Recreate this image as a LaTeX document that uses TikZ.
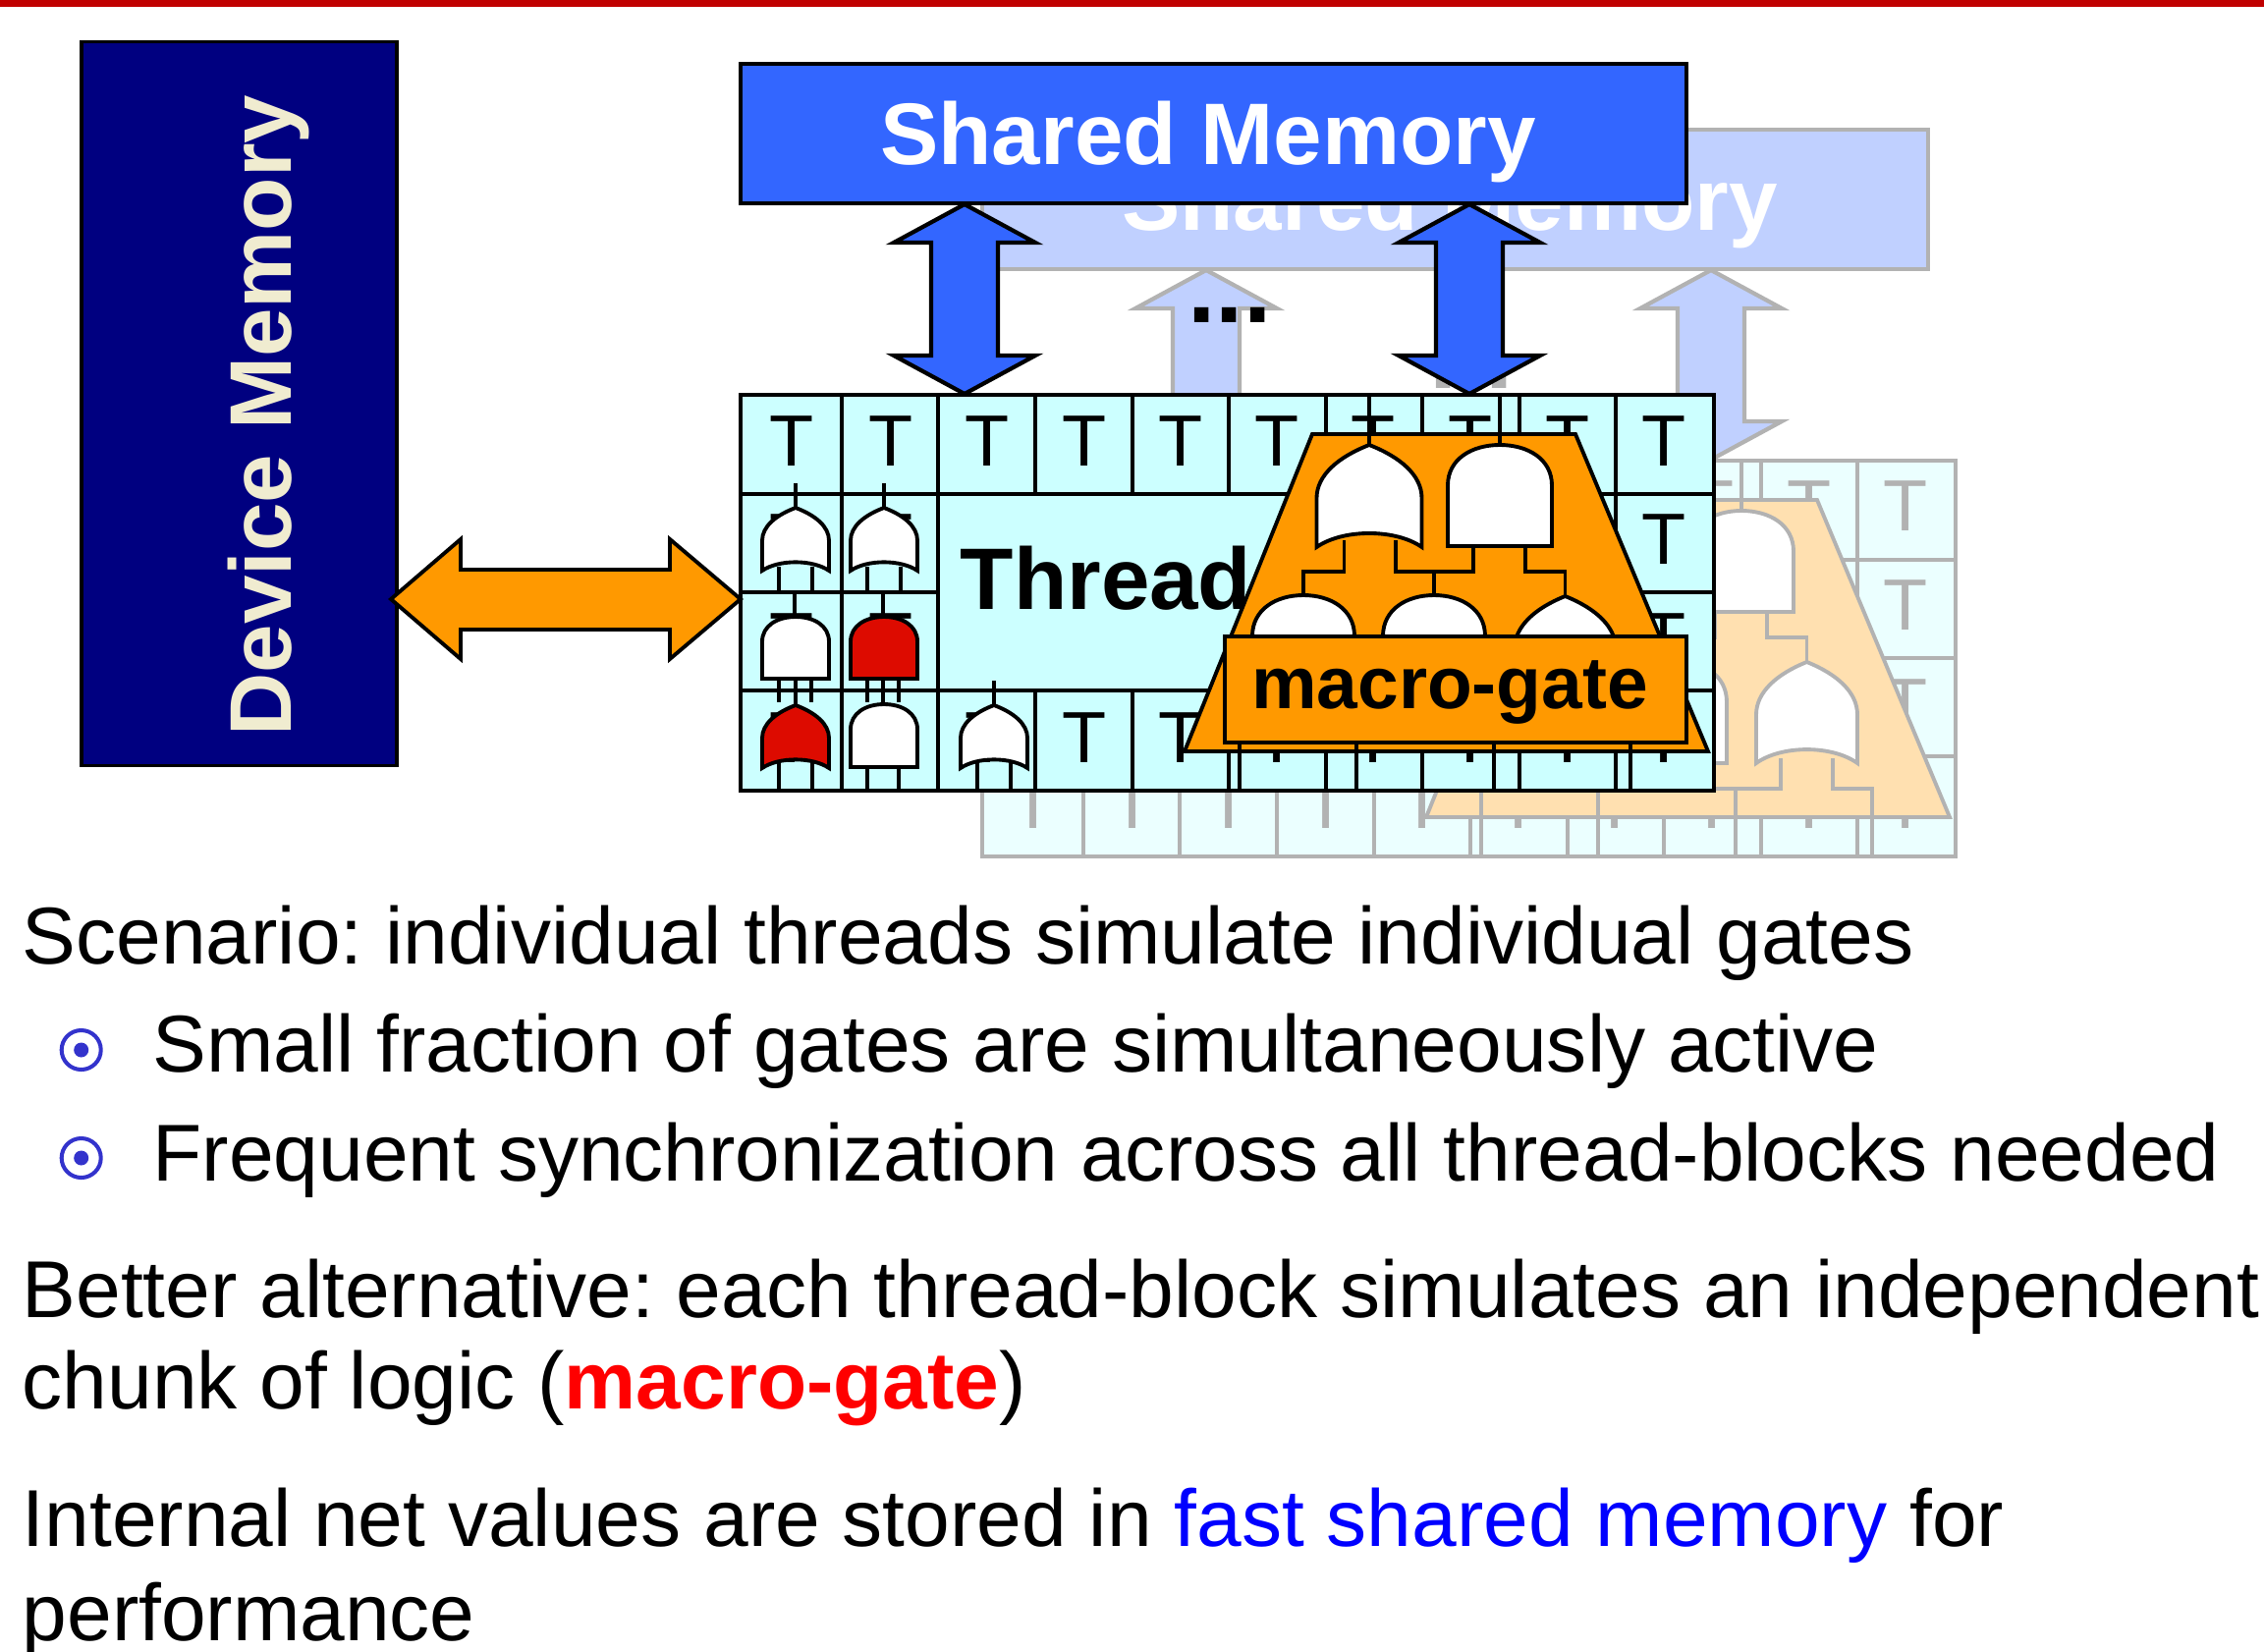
\documentclass[tikz,border=0pt]{standalone}
\usepackage{fontspec}
\setmainfont{Liberation Sans}
\frenchspacing
\definecolor{topred}{HTML}{C00000}
\definecolor{devblue}{HTML}{000080}
\definecolor{devtext}{HTML}{F0ECD0}
\definecolor{memblue}{HTML}{3366FF}
\definecolor{cellcyan}{HTML}{CCFFFF}
\definecolor{gateorange}{HTML}{FF9900}
\definecolor{gatered}{HTML}{DD0B00}
\definecolor{bulletblue}{HTML}{3333CC}
\definecolor{backgrey}{HTML}{B2B2B2}
\definecolor{backmem}{HTML}{C0D0FF}
\definecolor{backcell}{HTML}{EBFFFF}
\definecolor{backorange}{HTML}{FFE0B0}
\tikzset{
    gateline/.style={draw=linec,line width=1.1pt,line join=miter},
    memrect/.style={draw=linec,fill=memc,line width=1.1pt,inner sep=0pt,minimum width=9.63cm,minimum height=1.42cm},
    bigtext/.style={anchor=base,inner sep=0pt,font=\fontsize{25.3}{30}\selectfont\bfseries},
    celltext/.style={anchor=base,inner sep=0pt,text=linec,font=\fontsize{21}{25}\selectfont},
    bodytext/.style={anchor=base west,inner sep=0pt,font=\fontsize{23.35}{27}\selectfont},
    bulletring/.style={circle,draw=bulletblue,line width=1.15pt,inner sep=0pt,minimum size=0.4cm},
    bulletdot/.style={circle,fill=bulletblue,inner sep=0pt,minimum size=0.15cm}
}
\newcommand{\orgate}[5]{\draw[gateline,fill=#5,shift={(#1,#2)},xscale=#3,yscale=#4]
    (0,0) .. controls (.3,.12) and (.5,.3) .. (.5,.52) -- (.5,1)
    .. controls (.25,.82) and (-.25,.82) .. (-.5,1) -- (-.5,.52)
    .. controls (-.5,.3) and (-.3,.12) .. (0,0) -- cycle;}
\newcommand{\andgate}[5]{\draw[gateline,fill=#5,shift={(#1,#2)},xscale=#3,yscale=#4]
    (-.5,1) -- (-.5,.4) .. controls (-.5,.14) and (-.27,0) .. (0,0)
    .. controls (.27,0) and (.5,.14) .. (.5,.4) -- (.5,1) -- cycle;}
\newcommand{\memarrow}[1]{\draw[gateline,line width=1.2pt,fill=memc] (#1,208) -- ++(72,39) -- ++(-38,0) -- ++(0,115)
    -- ++(38,0) -- ++(-72,39) -- ++(-72,-39) -- ++(38,0) -- ++(0,-115) -- ++(-38,0) -- cycle;}
% memory, arrows and the empty grid of one block
\newcommand{\blockbase}{%
    \node[memrect] (mem) at (1235.5,136) {};
    \node[bigtext,text=white] (memtext) at (1230,167) {Shared Memory};
    \memarrow{982}
    \memarrow{1496}
    \node[anchor=base,inner sep=0pt,text=linec,font=\fontsize{29}{30}\selectfont\bfseries] (dots) at (1252,328) {...};
    \draw[gateline,fill=cellc,line width=1.3pt] (754,402) rectangle (1745,805);
    \foreach \x in {857,955,1645}
        \draw[gateline] (\x,402) -- (\x,805);
    \foreach \x in {1054,1153,1251,1350,1448,1547} {
        \draw[gateline] (\x,402) -- (\x,503);
        \draw[gateline] (\x,703) -- (\x,805);
    }
    \draw[gateline] (754,503) -- (1745,503);
    \draw[gateline] (754,703) -- (1745,703);
    \draw[gateline] (754,603) -- (955,603);
    \draw[gateline] (1645,603) -- (1745,603);
}
% trapezoid with the five gates and their nets
\newcommand{\blockgates}{%
    \draw[gateline,fill=trapc] (1336,442) -- (1604,442) -- (1739,765) -- (1206,765) -- cycle;
    \foreach \x in {1394,1527}
        \draw[gateline] (\x,402) -- (\x,453);
    \draw[gateline] (1327,606) -- (1327,582) -- (1368.5,582) -- (1368.5,550);
    \draw[gateline] (1421,550) -- (1421,582) -- (1500,582) -- (1500,550);
    \draw[gateline] (1460,582) -- (1460,606);
    \draw[gateline] (1553,550) -- (1553,582) -- (1593.5,582) -- (1593.5,607);
    \draw[gateline] (1262,805) -- (1262,736) -- (1300,736) -- (1300,705);
    \draw[gateline] (1353,705) -- (1353,736) -- (1433,736) -- (1433,705);
    \draw[gateline] (1381,736) -- (1381,805);
    \draw[gateline] (1487,705) -- (1487,736) -- (1567,736) -- (1567,705);
    \draw[gateline] (1521,736) -- (1521,805);
    \draw[gateline] (1620,705) -- (1620,736) -- (1660,736) -- (1660,805);
    \orgate{1394}{453}{107}{104}{white}
    \andgate{1527}{453}{106}{103}{white}
    \andgate{1327}{606}{104}{104}{white}
    \andgate{1460}{606}{104}{104}{white}
    \orgate{1593.5}{607}{103}{103}{white}
}
\begin{document}
\begin{tikzpicture}[x=0.01cm,y=-0.01cm]
    \useasboundingbox (0,0) rectangle (2305,1681);
    \fill[topred] (0,0) rectangle (2305,7);

    \node[draw=black,fill=devblue,line width=1pt,inner sep=0pt,minimum width=3.21cm,minimum height=7.37cm] (device) at (243.5,411) {};
    \node[bigtext,text=devtext,rotate=90] (devicetext) at (296,423) {Device Memory};

    % block behind
    \begin{scope}[shift={(246,67)},name prefix=back-]
        \colorlet{linec}{backgrey}
        \colorlet{memc}{backmem}
        \colorlet{cellc}{backcell}
        \colorlet{trapc}{backorange}
        \blockbase
        \foreach \x in {806,907,1005,1104,1202,1300,1398,1497,1596,1694}
            \node[celltext] (t3-\x) at (\x,776) {T};
        \foreach \x in {1497,1596,1694}
            \node[celltext] (t0-\x) at (\x,473) {T};
        \foreach \y in {574,675}
            \node[celltext] (t\y) at (1694,\y) {T};
        \blockgates
    \end{scope}

    % block in front
    \begin{scope}
        \colorlet{linec}{black}
        \colorlet{memc}{memblue}
        \colorlet{cellc}{cellcyan}
        \colorlet{trapc}{gateorange}
        \blockbase
        \foreach \x in {806,907,1005,1104,1202,1300,1398,1497,1596,1694} {
            \node[celltext] (a\x) at (\x,474) {T};
            \node[celltext] (d\x) at (\x,776) {T};
        }
        \foreach \x in {806,907,1694} {
            \node[celltext] (b\x) at (\x,574) {T};
            \node[celltext] (c\x) at (\x,675) {T};
        }
        \node[bigtext,anchor=base west] (threadtext) at (977,620) {Thread};

        \foreach \x/\ya/\yb in {810/492/517,793/577/605,827/577/605,900/492/517,883/577/605,917/577/605,
                809/605/628,793/690/715,810/690/718,826/690/715,899/605/628,883/690/715,899/690/717,915/690/715,
                793/775/807,827/775/807,883/775/807,915/775/807,1012/693/718,995/775/807,1029/775/807}
            \draw[gateline] (\x,\ya) -- (\x,\yb);
        \orgate{810}{517}{68}{64}{white}
        \orgate{900}{517}{68}{64}{white}
        \andgate{810}{628}{68}{63}{white}
        \andgate{900}{628}{68}{63}{gatered}
        \orgate{810}{718}{68}{64}{gatered}
        \andgate{900}{717}{68}{64}{white}
        \orgate{1012}{718}{68}{64}{white}

        \blockgates
        \node[draw=black,fill=gateorange,line width=1.2pt,inner sep=0pt,minimum width=4.7cm,minimum height=1.08cm] (macrobox) at (1482,702) {};
        \node[bigtext,font=\fontsize{21.3}{25}\selectfont\bfseries] (macrotext) at (1476,721) {macro-gate};
    \end{scope}

    \draw[line width=1.1pt,fill=gateorange] (398,610) -- (469,549) -- (469,580) -- (682,580) -- (682,549) -- (754,610)
        -- (682,671) -- (682,641) -- (469,641) -- (469,671) -- cycle;

    \node[bodytext] (scenario) at (22,981) {Scenario: individual threads simulate individual gates};
    \node[bulletring] (ringa) at (82.7,1069) {};
    \node[bulletdot] (dota) at (ringa) {};
    \node[bodytext] (small) at (155,1091) {Small fraction of gates are simultaneously active};
    \node[bulletring] (ringb) at (82.7,1179) {};
    \node[bulletdot] (dotb) at (ringb) {};
    \node[bodytext] (frequent) at (155,1202) {Frequent synchronization across all thread-blocks needed};
    \node[bodytext] (better) at (22,1341) {Better alternative: each thread-block simulates an independent};
    \node[bodytext] (chunk) at (22,1434) {chunk of logic (\textcolor{red}{\bfseries macro-gate})};
    \node[bodytext] (internal) at (22,1574) {Internal net values are stored in \textcolor{blue}{fast shared memory} for};
    \node[bodytext] (performance) at (22,1670) {performance};
\end{tikzpicture}
\end{document}
